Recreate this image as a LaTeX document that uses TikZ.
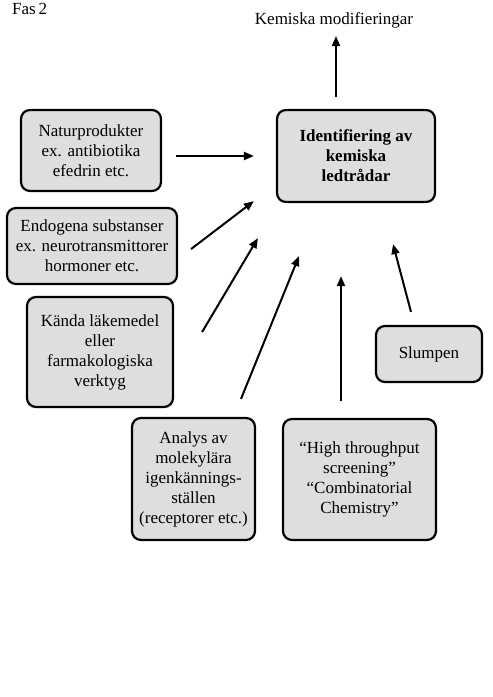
\documentclass[tikz,border=0pt]{standalone}
\usepackage{fontspec}
\setmainfont{Liberation Serif}
\usepackage{tikz}
\usetikzlibrary{arrows.meta,positioning,calc}
\tikzset{
  box/.style={rectangle, rounded corners=9pt, draw=black, line width=2.2pt,
    fill=black!13, align=center, inner sep=2pt, font=\fontsize{17}{20}\selectfont},
  keybox/.style={box, font=\fontsize{17}{20}\selectfont\bfseries},
  annot/.style={font=\fontsize{17}{20}\selectfont, inner sep=1pt},
  flow/.style={-{Triangle[length=10pt,width=8pt]}, line width=2pt, draw=black},
}
\begin{document}
\begin{tikzpicture}[x=1pt, y=-1pt]
  \useasboundingbox (0,0) rectangle (493,697);
  \node[annot, anchor=west] (fas) at (11,9) {Fas\,2};
  \node[annot] (mod) at (334,20) {Kemiska modifieringar};
  \node[keybox, minimum width=158pt, minimum height=92pt] (ident) at (356,156)
    {Identifiering av\\ kemiska\\ ledtrådar};
  \node[box, minimum width=140pt, minimum height=81pt] (natur) at (91,150.5)
    {Naturprodukter\\ ex. antibiotika\\ efedrin etc.};
  \node[box, minimum width=170pt, minimum height=76pt] (endo) at (92,246)
    {Endogena substanser\\ ex. neurotransmittorer\\ hormoner etc.};
  \node[box, minimum width=146pt, minimum height=110pt] (kanda) at (100,352)
    {Kända läkemedel\\ eller\\ farmakologiska\\ verktyg};
  \node[box, minimum width=106pt, minimum height=56pt] (slump) at (429,354) {Slumpen};
  \node[box, minimum width=123pt, minimum height=122pt] (analys) at (193.5,479)
    {Analys av\\ molekylära\\ igenkännings-\\ ställen\\ (receptorer etc.)};
  \node[box, minimum width=153pt, minimum height=121pt] (hts) at (359.5,479.5)
    {``High throughput\\ screening''\\ ``Combinatorial\\ Chemistry''};
  % arrows into the lead box, none of them touch a box
  \draw[flow] ($(ident.north)+(-20,-12)$) -- ($(mod.south)+(2,7)$);
  \draw[flow] ($(natur.east)+(14,5.5)$) -- ($(ident.west)+(-22,0)$);
  \draw[flow] ($(endo.east)+(13,3)$) -- ($(ident.south west)+(-22,-2)$);
  \draw[flow] ($(kanda.east)+(28,-20)$) -- ($(ident.south west)+(-18,35)$);
  \draw[flow] ($(analys.north)+(47.5,-18)$) -- ($(ident.south)+(-57,53)$);
  \draw[flow] ($(hts.north)+(-18.5,-17)$) -- ($(ident.south)+(-15,73)$);
  \draw[flow] ($(slump.north)+(-18,-13)$) -- ($(ident.south)+(37,41)$);
\end{tikzpicture}
\end{document}
